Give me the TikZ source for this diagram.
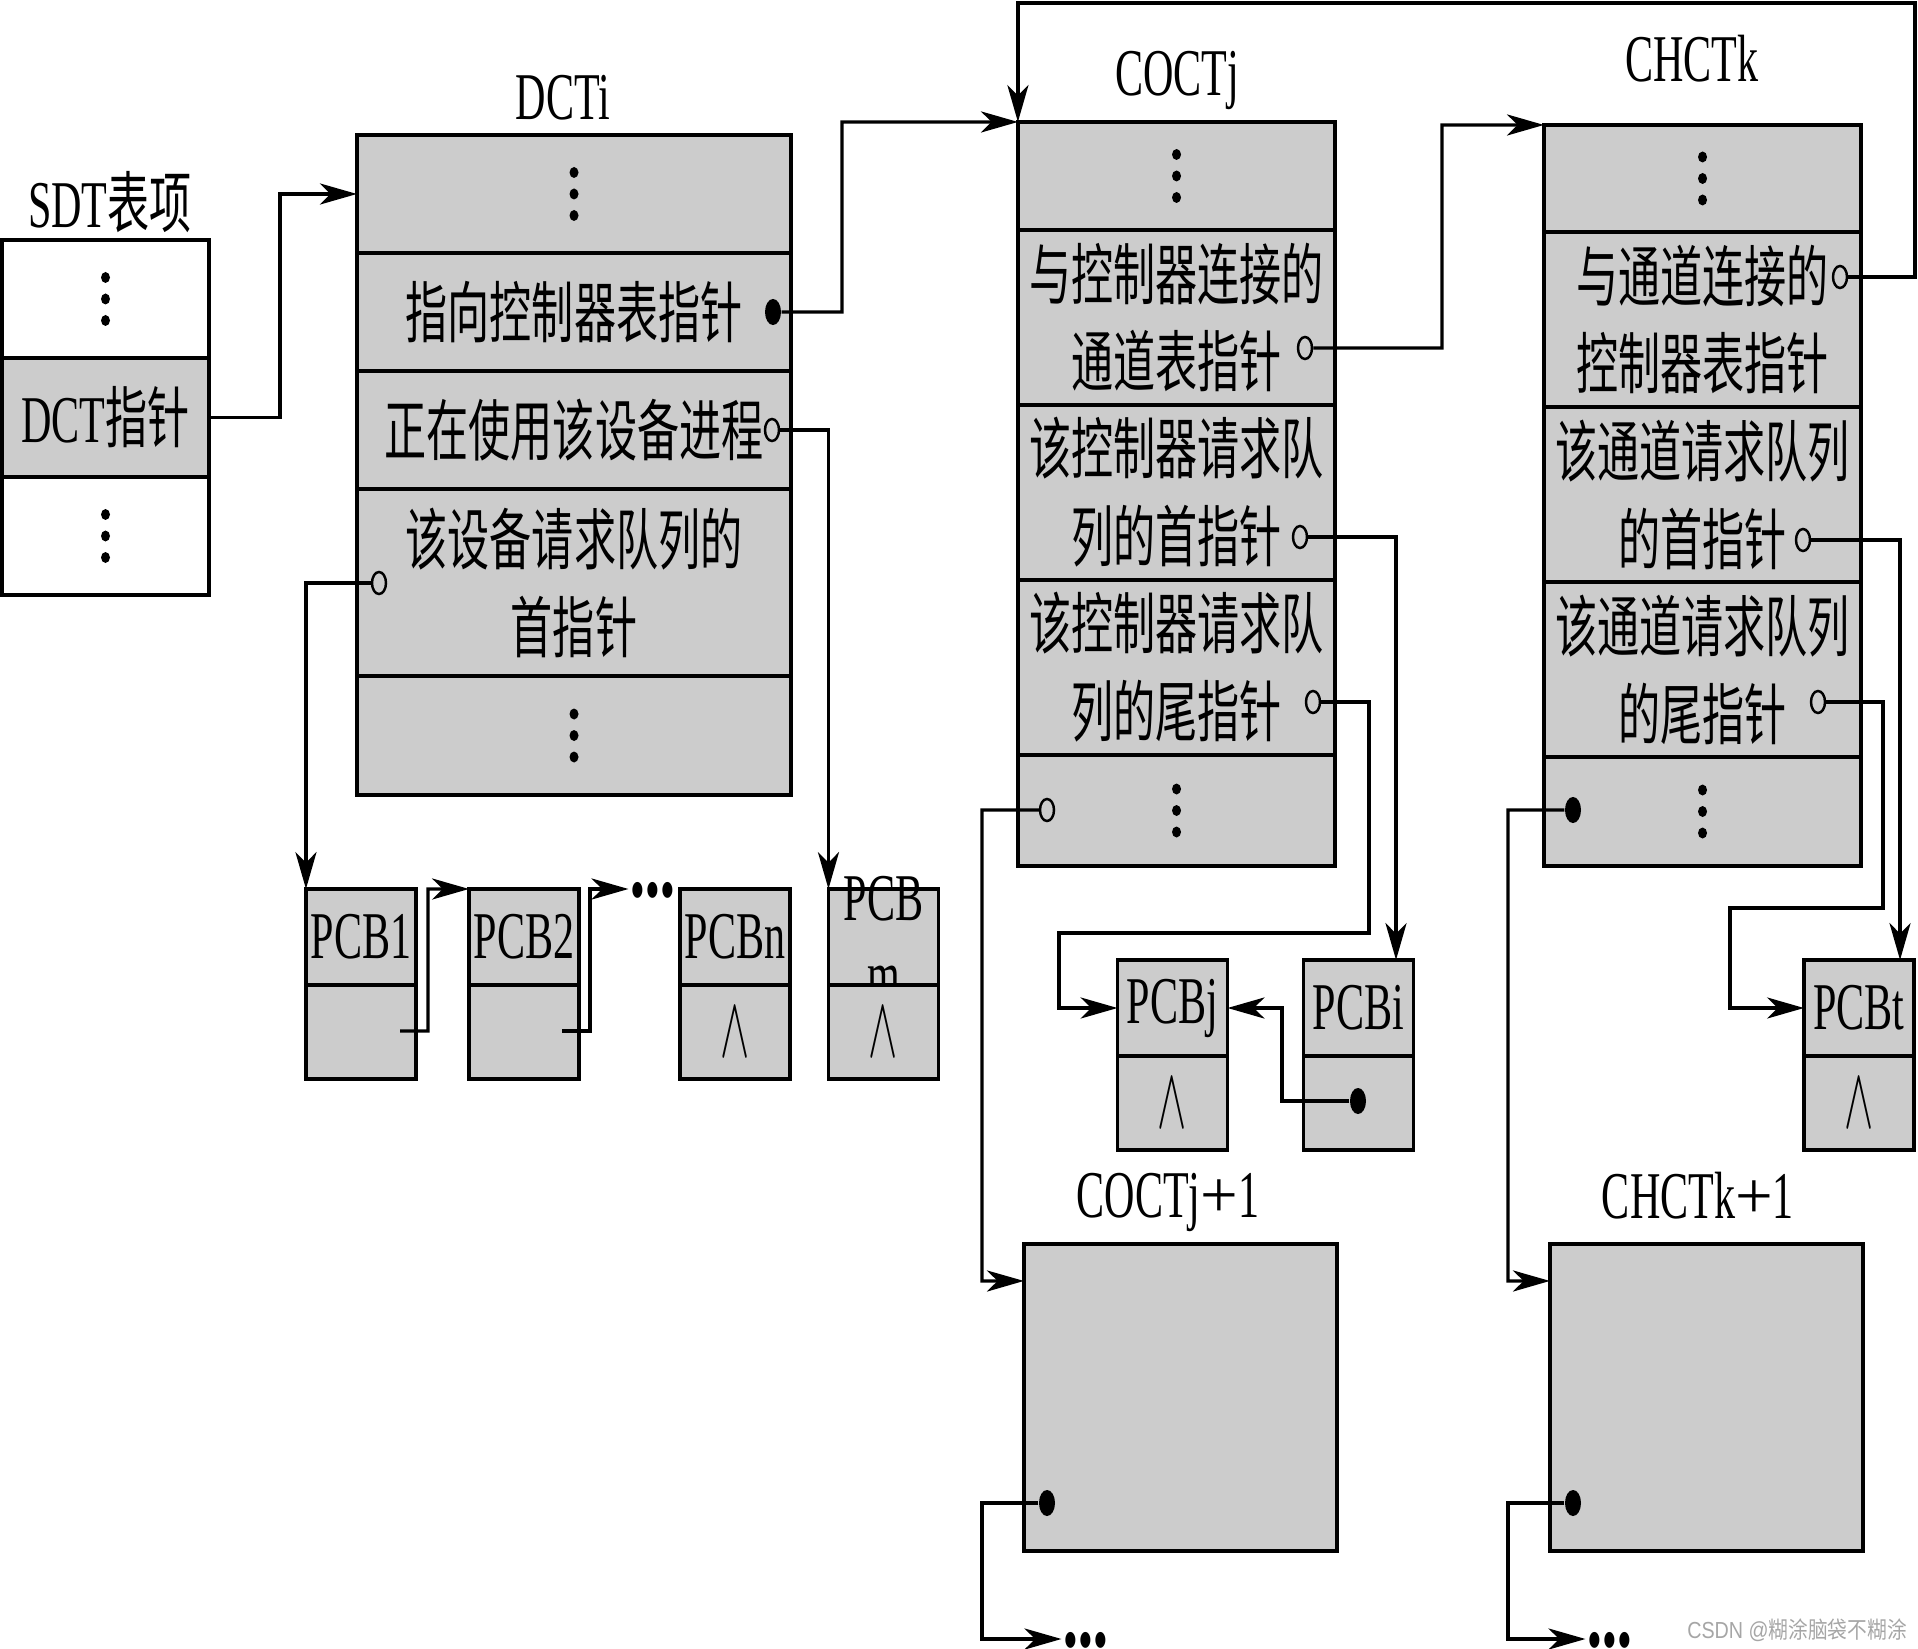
\documentclass[tikz,border=0pt]{standalone}
\usepackage{fontspec}
\setmainfont{Liberation Serif}[FakeStretch=0.63]
\newfontfamily\plainserif{Liberation Serif}
\newfontfamily\zhfont{Noto Sans CJK SC}[FakeStretch=0.63]
\newfontfamily\markzh{Noto Sans CJK SC}[FakeStretch=0.85]
\newfontfamily\marklatin{Liberation Sans}[FakeStretch=0.85]
\newcommand\zh[1]{{\zhfont #1}}
\newcommand\nullmark{\scalebox{0.72}[1.43]{$\wedge$}}
\newcommand\moredots{\smash{\raisebox{-6.8pt}{•••}}}
\usetikzlibrary{arrows.meta,shapes.geometric}
\definecolor{cellgray}{RGB}{204,204,204}
\tikzset{
  cell/.style={draw, fill=cellgray, line width=1.1pt, inner sep=0pt, outer sep=0pt, align=center},
  blank/.style={cell, fill=white},
  sdtw/.style={minimum width=2.07cm},
  dctw/.style={minimum width=4.34cm},
  tabw/.style={minimum width=3.17cm},
  pcbw/.style={minimum width=1.10cm},
  hole/.style={ellipse, draw, fill=cellgray, line width=0.7pt, minimum width=0.14cm, minimum height=0.22cm, inner sep=0pt},
  knob/.style={ellipse, fill=black, minimum width=0.16cm, minimum height=0.26cm, inner sep=0pt},
  gapdots/.style={inner sep=0.5pt},
  link/.style={line width=0.9pt, -{Stealth[length=10.5pt, width=6pt, inset=3pt]}}
}
\begin{document}
\begin{tikzpicture}[x=0.01cm, y=-0.01cm, font=\fontsize{19}{25}\selectfont]
  \useasboundingbox (0,0) rectangle (1918,1649);
  % SDT entry
  \node[blank, sdtw, minimum height=1.18cm] (sdt1) at (105.5,299) {};
  \node[cell, sdtw, minimum height=1.19cm] (sdt2) at (105.5,417.5) {DCT\zh{指针}};
  \node[blank, sdtw, minimum height=1.18cm] (sdt3) at (105.5,536) {};
  \node (sdtname) at (110,202) {SDT\zh{表项}};
  % DCTi
  \node[cell, dctw, minimum height=1.18cm] (dct1) at (574,194) {};
  \node[cell, dctw, minimum height=1.18cm] (dct2) at (574,312) {\zh{指向控制器表指针}};
  \node[cell, dctw, minimum height=1.18cm] (dct3) at (574,430) {\zh{正在使用该设备进程}};
  \node[cell, dctw, minimum height=1.87cm] (dct4) at (574,582.5) {\zh{该设备请求队列的}\\\zh{首指针}};
  \node[cell, dctw, minimum height=1.19cm] (dct5) at (574,735.5) {};
  \node (dctname) at (563,98) {DCTi};
  % COCTj
  \node[cell, tabw, minimum height=1.08cm] (coc1) at (1176.5,176) {};
  \node[cell, tabw, minimum height=1.75cm] (coc2) at (1176.5,317.5) {\zh{与控制器连接的}\\\zh{通道表指针}};
  \node[cell, tabw, minimum height=1.75cm] (coc3) at (1176.5,492.5) {\zh{该控制器请求队}\\\zh{列的首指针}};
  \node[cell, tabw, minimum height=1.75cm] (coc4) at (1176.5,667.5) {\zh{该控制器请求队}\\\zh{列的尾指针}};
  \node[cell, tabw, minimum height=1.11cm] (coc5) at (1176.5,810.5) {};
  \node (cocname) at (1177,80) {COCTj};
  % CHCTk
  \node[cell, tabw, minimum height=1.07cm] (chc1) at (1702.5,178.5) {};
  \node[cell, tabw, minimum height=1.75cm] (chc2) at (1702.5,319.5) {\zh{与通道连接的}\\\zh{控制器表指针}};
  \node[cell, tabw, minimum height=1.75cm] (chc3) at (1702.5,494.5) {\zh{该通道请求队列}\\\zh{的首指针}};
  \node[cell, tabw, minimum height=1.75cm] (chc4) at (1702.5,669.5) {\zh{该通道请求队列}\\\zh{的尾指针}};
  \node[cell, tabw, minimum height=1.09cm] (chc5) at (1702.5,811.5) {};
  \node (chcname) at (1692,59) {CHCTk};
  % PCB queues
  \node[cell, pcbw, minimum height=0.96cm] (pcb1) at (361,937) {PCB1};
  \node[cell, pcbw, minimum height=0.94cm] (pcb1p) at (361,1032) {};
  \node[cell, pcbw, minimum height=0.96cm] (pcb2) at (524,937) {PCB2};
  \node[cell, pcbw, minimum height=0.94cm] (pcb2p) at (524,1032) {};
  \node[cell, pcbw, minimum height=0.96cm] (pcbn) at (735,937) {PCBn};
  \node[cell, pcbw, minimum height=0.94cm] (pcbnp) at (735,1032) {\nullmark};
  \node[cell, pcbw, minimum height=0.96cm] (pcbm) at (883.5,937) {};
  \node[align=center, inner sep=0pt, font=\fontsize{19}{22}\selectfont] (pcbmname) at (pcbm) {PCB\\m};
  \node[cell, pcbw, minimum height=0.94cm] (pcbmp) at (883.5,1032) {\nullmark};
  \node[cell, pcbw, minimum height=0.96cm] (pcbj) at (1172.5,1008) {PCBj};
  \node[cell, pcbw, minimum height=0.94cm] (pcbjp) at (1172.5,1103) {\nullmark};
  \node[cell, pcbw, minimum height=0.96cm] (pcbi) at (1358.5,1008) {PCBi};
  \node[cell, pcbw, minimum height=0.94cm] (pcbip) at (1358.5,1103) {};
  \node[cell, pcbw, minimum height=0.96cm] (pcbt) at (1859,1008) {PCBt};
  \node[cell, pcbw, minimum height=0.94cm] (pcbtp) at (1859,1103) {\nullmark};
  % next tables
  \node[cell, minimum width=3.13cm, minimum height=3.07cm] (cocn) at (1180.5,1397.5) {};
  \node (cocnname) at (1168,1202) {COCTj{\plainserif +}1};
  \node[cell, minimum width=3.13cm, minimum height=3.07cm] (chcn) at (1706.5,1397.5) {};
  \node (chcnname) at (1698,1196) {CHCTk{\plainserif +}1};
  \node[gapdots] (gap1) at (653,889) {\moredots};
  \node[gapdots] (gap2) at (1086,1639) {\moredots};
  \node[gapdots] (gap3) at (1610,1639) {\moredots};
  % vertical dots
  \foreach \c in {sdt1,sdt3,dct1,dct5,coc1,coc5,chc1,chc5}
    \foreach \d in {-21.5,0,21.5}
      \fill (\c) ++(0,\d) ellipse [x radius=4.5, y radius=5.5];
  % pointer marks
  \node[knob] (pd1) at (773,312) {};
  \node[hole] (ph1) at (772,430) {};
  \node[hole] (ph2) at (379,583) {};
  \node[hole] (ph3) at (1305,348) {};
  \node[hole] (ph4) at (1300,537) {};
  \node[hole] (ph5) at (1313,702) {};
  \node[hole] (ph6) at (1047,810) {};
  \node[hole] (ph7) at (1840,277) {};
  \node[hole] (ph8) at (1803,540) {};
  \node[hole] (ph9) at (1818,702) {};
  \node[knob] (pf2) at (1573,810) {};
  \node[knob] (pf3) at (1358,1101) {};
  \node[knob] (pf4) at (1047,1503) {};
  \node[knob] (pf5) at (1573,1503) {};
  \coordinate (nx1) at (400,1031);
  \coordinate (nx2) at (562,1031);
  % links
  \draw[link] (sdt2.east) -- ++(71,0) |- (dct1.west);
  \draw[link] (pd1) -| (842,122) -- (coc1.north west);
  \draw[link] (ph1) -| (pcbm.north west);
  \draw[link] (ph2) -| (pcb1.north west);
  \draw[link] (nx1) -| (428,889) -- (pcb2.north west);
  \draw[link] (nx2) -| (590,889) -- (gap1.west);
  \draw[link] (ph3) -| (1442,125) -- (chc1.north west);
  \draw[link] (ph4) -| ([xshift=0.375cm]pcbi.north);
  \draw[link] (ph5) -| (1369,933) -| (1059,1008) -- (pcbj.west);
  \draw[link] (pf3) -| (1282,1008) -- (pcbj.east);
  \draw[link] (ph6) -| (982,1281) -- ([yshift=-0.37cm]cocn.north west);
  \draw[link] (pf4) -| (982,1639) -- (gap2.west);
  \draw[link] (ph7) -| (1915,3) -| (coc1.north west);
  \draw[link] (ph8) -| ([xshift=0.41cm]pcbt.north);
  \draw[link] (ph9) -| (1883,908) -| (1730,1008) -- (pcbt.west);
  \draw[link] (pf2) -| (1508,1281) -- ([yshift=-0.37cm]chcn.north west);
  \draw[link] (pf5) -| (1508,1639) -- (gap3.west);
  % watermark
  \node[text=gray!70, font=\fontsize{6.6}{8}\selectfont] (mark) at (1797,1630) {\marklatin CSDN @\markzh 糊涂脑袋不糊涂};
\end{tikzpicture}
\end{document}
